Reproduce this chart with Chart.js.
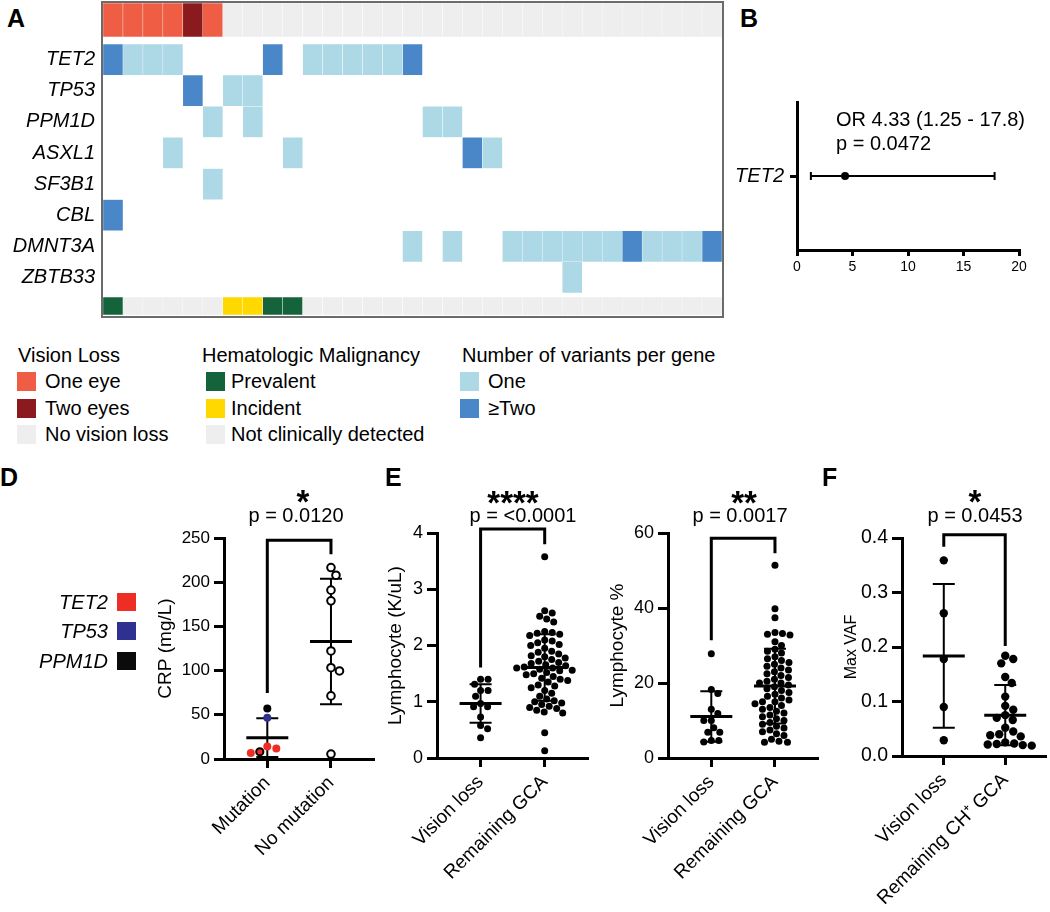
<!DOCTYPE html>
<html>
<head>
<meta charset="utf-8">
<title>Vision loss and clonal hematopoiesis in GCA</title>
<script src="https://cdn.jsdelivr.net/npm/chart.js@4.4.1/dist/chart.umd.min.js"></script>
<style>
  html, body { margin: 0; padding: 0; background: #fff; }
  body { position: relative; width: 1050px; height: 912px; overflow: hidden;
         font-family: "Liberation Sans", Arial, Helvetica, sans-serif; color: #000; }
  canvas, .t, .sw, .frame { position: absolute; }
  .t { white-space: nowrap; font-size: 20px; line-height: 20px; }
  .letter { font-size: 25px; line-height: 25px; font-weight: bold; }
  .stars { font-size: 33px; line-height: 33px; font-weight: bold; transform: translateX(-50%); }
  .pval { transform: translateX(-50%); }
  .it { font-style: italic; }
  .sw { width: 19px; height: 19px; }
  .frame { left: 101px; top: 1px; width: 619px; height: 313px; border: 2px solid #6b6b6b; z-index: 2; }
</style>
</head>
<body>

<!-- A -->
<canvas id="visionStrip" width="619" height="34" style="left:103px;top:3px"></canvas>
<canvas id="geneGrid" width="722" height="249" style="left:0;top:44px"></canvas>
<canvas id="malignancyStrip" width="619" height="18" style="left:103px;top:297px"></canvas>
<div class="frame"></div>
<div class="t letter" style="left:7px;top:6px">A</div>

<div class="t" style="left:18px;top:345px">Vision Loss</div>
<div class="sw" style="left:17px;top:372px;background:#EE5D44"></div><div class="t" style="left:45px;top:371px">One eye</div>
<div class="sw" style="left:17px;top:399px;background:#8B1A1E"></div><div class="t" style="left:45px;top:398px">Two eyes</div>
<div class="sw" style="left:17px;top:425px;background:#EEEEEE"></div><div class="t" style="left:45px;top:424px">No vision loss</div>

<div class="t" style="left:202px;top:345px">Hematologic Malignancy</div>
<div class="sw" style="left:206px;top:372px;background:#14633A"></div><div class="t" style="left:231px;top:371px">Prevalent</div>
<div class="sw" style="left:206px;top:399px;background:#FFD800"></div><div class="t" style="left:231px;top:398px">Incident</div>
<div class="sw" style="left:206px;top:425px;background:#EEEEEE"></div><div class="t" style="left:231px;top:424px">Not clinically detected</div>

<div class="t" style="left:462px;top:345px">Number of variants per gene</div>
<div class="sw" style="left:460px;top:372px;background:#ADD8E6"></div><div class="t" style="left:488px;top:371px">One</div>
<div class="sw" style="left:460px;top:399px;background:#4A87C8"></div><div class="t" style="left:488px;top:398px">≥Two</div>

<!-- B -->
<canvas id="forest" width="350" height="200" style="left:700px;top:80px"></canvas>
<div class="t letter" style="left:740px;top:6px">B</div>
<div class="t" style="left:836px;top:109px">OR 4.33 (1.25 - 17.8)</div>
<div class="t" style="left:836px;top:133px">p = 0.0472</div>

<!-- D -->
<canvas id="crp" width="290" height="432" style="left:100px;top:480px"></canvas>
<div class="t letter" style="left:0;top:465px">D</div>
<div class="t it" style="left:0;width:108px;text-align:right;top:592px">TET2</div>
<div class="t it" style="left:0;width:108px;text-align:right;top:621px">TP53</div>
<div class="t it" style="left:0;width:108px;text-align:right;top:651px">PPM1D</div>
<div class="sw" style="left:117px;top:593px;height:18px;background:#EE2D24"></div>
<div class="sw" style="left:117px;top:622px;height:18px;background:#2E3192"></div>
<div class="sw" style="left:117px;top:652px;height:18px;background:#0B0B0B"></div>
<div class="t stars" style="left:303px;top:485px">*</div>
<div class="t pval" style="left:296px;top:505px">p = 0.0120</div>

<!-- E -->
<canvas id="lymphCount" width="250" height="432" style="left:350px;top:480px"></canvas>
<canvas id="lymphPct" width="230" height="432" style="left:600px;top:480px"></canvas>
<div class="t letter" style="left:385px;top:465px">E</div>
<div class="t stars" style="left:513px;top:486px">****</div>
<div class="t pval" style="left:523px;top:505px">p = &lt;0.0001</div>
<div class="t stars" style="left:744px;top:486px">**</div>
<div class="t pval" style="left:740px;top:505px">p = 0.0017</div>

<!-- F -->
<canvas id="vaf" width="220" height="432" style="left:830px;top:480px"></canvas>
<div class="t letter" style="left:822px;top:465px">F</div>
<div class="t stars" style="left:975px;top:485px">*</div>
<div class="t pval" style="left:975px;top:505px">p = 0.0453</div>

<script>
// ---------- Panel A: one column per patient ----------
const geneNames = ['TET2', 'TP53', 'PPM1D', 'ASXL1', 'SF3B1', 'CBL', 'DMNT3A', 'ZBTB33'];
// 0 = no vision loss, 1 = one eye, 2 = two eyes
const visionLoss = [1,1,1,1,2,1,0,0,0,0, 0,0,0,0,0,0,0,0,0,0, 0,0,0,0,0,0,0,0,0,0, 0];
// 0 = not clinically detected, 1 = prevalent, 2 = incident
const malignancy = [1,0,0,0,0,0,2,2,1,1, 0,0,0,0,0,0,0,0,0,0, 0,0,0,0,0,0,0,0,0,0, 0];
// number of variants per gene and patient
const tet2   = [2,1,1,1,0,0,0,0,2,0, 1,1,1,1,1,2,0,0,0,0, 0,0,0,0,0,0,0,0,0,0, 0];
const tp53   = [0,0,0,0,2,0,1,1,0,0, 0,0,0,0,0,0,0,0,0,0, 0,0,0,0,0,0,0,0,0,0, 0];
const ppm1d  = [0,0,0,0,0,1,0,1,0,0, 0,0,0,0,0,0,1,1,0,0, 0,0,0,0,0,0,0,0,0,0, 0];
const asxl1  = [0,0,0,1,0,0,0,0,0,1, 0,0,0,0,0,0,0,0,2,1, 0,0,0,0,0,0,0,0,0,0, 0];
const sf3b1  = [0,0,0,0,0,1,0,0,0,0, 0,0,0,0,0,0,0,0,0,0, 0,0,0,0,0,0,0,0,0,0, 0];
const cbl    = [2,0,0,0,0,0,0,0,0,0, 0,0,0,0,0,0,0,0,0,0, 0,0,0,0,0,0,0,0,0,0, 0];
const dnmt3a = [0,0,0,0,0,0,0,0,0,0, 0,0,0,0,0,1,0,1,0,0, 1,1,1,1,1,1,2,1,1,1, 2];
const zbtb33 = [0,0,0,0,0,0,0,0,0,0, 0,0,0,0,0,0,0,0,0,0, 0,0,0,1,0,0,0,0,0,0, 0];
const geneRows = [tet2, tp53, ppm1d, asxl1, sf3b1, cbl, dnmt3a, zbtb33];

const visionColors = ['#EEEEEE', '#EE5D44', '#8B1A1E'];
const malignancyColors = ['#EEEEEE', '#14633A', '#FFD800'];
const variantColors = ['#ADD8E6', '#4A87C8'];
const cellLine = 'rgba(255,255,255,0.7)';

// ---------- Panel B: odds ratio ----------
const forestGenes = ['TET2'];
const forestOR = [4.33];
const forestLow = [1.25];
const forestHigh = [17.8];

// ---------- Panel D: CRP (mg/L) ----------
const crpGroups = ['Mutation', 'No mutation'];
const crpTet2 = [14.2, 12.0, 6.8];
const crpTet2Ppm1d = [8.2];
const crpTp53 = [46.6];
const crpPpm1d = [57.0];
const crpNoMutation = [216.6, 207.9, 191.0, 178.9, 122.2, 103.3, 99.6, 71.4, 5.6];

// ---------- Panel E: lymphocytes ----------
const lymphGroups = ['Vision loss', 'Remaining GCA'];
const lymphCountVision = [1.40, 1.40, 1.31, 1.20, 1.20, 1.10, 0.97, 0.91, 0.91, 0.73, 0.58, 0.52, 0.36];
const lymphCountRemaining = [3.58, 2.62, 2.58, 2.52, 2.47, 2.42, 2.25, 2.23, 2.22, 2.20, 2.18, 2.10, 2.08,
  2.05, 2.02, 2.00, 1.95, 1.90, 1.88, 1.85, 1.82, 1.80, 1.78, 1.75, 1.72, 1.70, 1.68, 1.66, 1.64, 1.62,
  1.60, 1.60, 1.58, 1.56, 1.55, 1.52, 1.50, 1.48, 1.45, 1.42, 1.40, 1.38, 1.35, 1.30, 1.28, 1.25, 1.20,
  1.15, 1.10, 1.05, 1.02, 1.00, 0.98, 0.95, 0.92, 0.90, 0.88, 0.85, 0.82, 0.80, 0.45, 0.13];
const lymphPctVision = [27.8, 18.3, 17.2, 13.0, 11.9, 10.0, 10.0, 8.1, 6.9, 6.9, 4.7, 4.7, 4.3];
const lymphPctRemaining = [51.4, 39.8, 37.4, 33.5, 33.2, 33.0, 32.8, 31.0, 30.0, 29.0, 28.5, 28.0, 27.0,
  26.5, 26.0, 25.5, 25.0, 24.5, 24.0, 23.5, 23.0, 22.5, 22.0, 21.5, 21.0, 20.5, 20.0, 20.0, 19.5, 19.0,
  18.5, 18.0, 17.5, 17.0, 16.5, 16.0, 15.5, 15.0, 15.0, 14.5, 14.0, 13.5, 13.0, 12.5, 12.0, 11.5, 11.0,
  10.5, 10.0, 9.5, 9.0, 8.5, 8.0, 7.5, 7.0, 6.5, 6.0, 5.0, 4.5, 4.2, 4.2];

// ---------- Panel F: max VAF ----------
const vafGroups = ['Vision loss', 'Remaining CH\u207A GCA'];
const vafVision = [0.359, 0.262, 0.178, 0.090, 0.029];
const vafRemaining = [0.184, 0.178, 0.170, 0.145, 0.134, 0.109, 0.092, 0.085, 0.075, 0.070, 0.066,
  0.052, 0.045, 0.040, 0.038, 0.036, 0.025, 0.023, 0.022, 0.021, 0.020, 0.019];

Chart.defaults.font.family = '"Liberation Sans", Arial, Helvetica, sans-serif';
Chart.defaults.color = '#000';

const noPlugins = { legend: { display: false }, tooltip: { enabled: false } };

// heatmap strips (vision loss on top, malignancy at the bottom)
function stripChart(id, status, colors) {
  return new Chart(document.getElementById(id), {
    type: 'bar',
    data: {
      labels: ['row'],
      datasets: [{
        data: status.map((s, i) => ({ x: [i, i + 1], y: 'row' })),
        backgroundColor: status.map(s => colors[s]),
        borderColor: cellLine, borderWidth: 0.5, borderSkipped: false,
        categoryPercentage: 1, barPercentage: 1
      }]
    },
    options: {
      indexAxis: 'y', responsive: false, animation: false, events: [],
      layout: { padding: 0 },
      plugins: noPlugins,
      scales: {
        x: { type: 'linear', min: 0, max: status.length, display: false },
        y: { display: false }
      }
    }
  });
}

function geneCells(level) {
  const out = [];
  geneRows.forEach((row, g) => row.forEach((n, i) => {
    if ((level === 1 && n === 1) || (level === 2 && n >= 2)) out.push({ x: [i, i + 1], y: geneNames[g] });
  }));
  return out;
}

stripChart('visionStrip', visionLoss, visionColors);
stripChart('malignancyStrip', malignancy, malignancyColors);

new Chart(document.getElementById('geneGrid'), {
  type: 'bar',
  data: {
    labels: geneNames,
    datasets: [1, 2].map(level => ({
      label: level === 1 ? 'One' : '≥Two',
      data: geneCells(level),
      backgroundColor: variantColors[level - 1],
      borderColor: cellLine, borderWidth: 0.5, borderSkipped: false,
      categoryPercentage: 1, barPercentage: 1, grouped: false
    }))
  },
  options: {
    indexAxis: 'y', responsive: false, animation: false, events: [],
    layout: { padding: 0 },
    plugins: noPlugins,
    scales: {
      x: { type: 'linear', min: 0, max: visionLoss.length, display: false },
      y: {
        type: 'category', offset: true,
        grid: { display: false, drawTicks: false }, border: { display: false },
        ticks: { font: { size: 20, style: 'italic' }, padding: 8 },
        // rows must fill the whole canvas height
        afterFit: s => { s.width = 103; s.paddingTop = 0; s.paddingBottom = 0; }
      }
    }
  }
});

// shared axis styling for the GraphPad-like panels
const axisLine = { display: true, width: 3, color: '#000' };
function tickGrid(len) {
  return { drawOnChartArea: false, drawTicks: true, tickLength: len, tickWidth: 3, tickColor: '#000', lineWidth: 3, color: '#000' };
}

// ---------- B ----------
const forestBars = {
  id: 'forestBars',
  beforeDatasetsDraw(chart) {
    const { ctx, scales: { x, y } } = chart;
    ctx.save();
    ctx.strokeStyle = '#000';
    ctx.lineWidth = 2;
    forestGenes.forEach((g, i) => {
      const py = y.getPixelForValue(i);
      const a = x.getPixelForValue(forestLow[i]), b = x.getPixelForValue(forestHigh[i]);
      ctx.beginPath();
      ctx.moveTo(a, py); ctx.lineTo(b, py);
      ctx.moveTo(a, py - 4); ctx.lineTo(a, py + 4);
      ctx.moveTo(b, py - 4); ctx.lineTo(b, py + 4);
      ctx.stroke();
    });
    ctx.restore();
  }
};

new Chart(document.getElementById('forest'), {
  type: 'scatter',
  data: {
    datasets: [{
      data: forestGenes.map((g, i) => ({ x: forestOR[i], y: g })),
      pointRadius: 4, pointBackgroundColor: '#000', pointBorderWidth: 0
    }]
  },
  options: {
    responsive: false, animation: false, events: [],
    layout: { padding: { top: 22, right: 31, left: 0, bottom: 0 } },
    plugins: noPlugins,
    scales: {
      x: {
        type: 'linear', min: 0, max: 20,
        ticks: { stepSize: 5, font: { size: 14 }, padding: 3 },
        grid: tickGrid(6), border: axisLine,
        afterFit: s => { s.height = 30; }
      },
      y: {
        type: 'category', labels: forestGenes, offset: true,
        ticks: { font: { size: 20, style: 'italic' }, padding: 6 },
        grid: tickGrid(7), border: axisLine,
        afterFit: s => { s.width = 97; }
      }
    }
  },
  plugins: [forestBars]
});

// ---------- dot plots (D, E, F) ----------
function groupStats(p, gi) {
  const vals = p.sets.filter(s => s.group === gi).flatMap(s => s.values);
  const n = vals.length;
  const m = vals.reduce((a, b) => a + b, 0) / n;
  const sd = Math.sqrt(vals.reduce((a, b) => a + (b - m) ** 2, 0) / (n - 1));
  return { m, sd };
}

function meanSdPlugin(p) {
  return {
    id: 'meanSd',
    beforeDatasetsDraw(chart) {
      const { ctx, scales: { x, y } } = chart;
      ctx.save();
      ctx.strokeStyle = '#000';
      p.groups.forEach((g, gi) => {
        const { m, sd } = groupStats(p, gi);
        const cx = x.getPixelForValue(gi);
        const hi = y.getPixelForValue(m + sd);
        const lo = y.getPixelForValue(Math.max(m - sd, p.yMin));
        ctx.lineWidth = 2;
        ctx.beginPath();
        ctx.moveTo(cx, hi); ctx.lineTo(cx, lo);
        ctx.moveTo(cx - 11, hi); ctx.lineTo(cx + 11, hi);
        if (m - sd > p.yMin) { ctx.moveTo(cx - 11, lo); ctx.lineTo(cx + 11, lo); }
        ctx.stroke();
        const my = y.getPixelForValue(m);
        ctx.lineWidth = 3;
        ctx.beginPath();
        ctx.moveTo(cx - 21, my); ctx.lineTo(cx + 21, my);
        ctx.stroke();
      });
      ctx.restore();
    }
  };
}

function bracketPlugin(p) {
  return {
    id: 'bracket',
    afterDatasetsDraw(chart) {
      const { ctx, scales: { x, y } } = chart;
      const [top, leftEnd, rightEnd] = p.bracket;
      const x0 = x.getPixelForValue(0), x1 = x.getPixelForValue(1);
      ctx.save();
      ctx.lineWidth = 3;
      ctx.strokeStyle = '#000';
      ctx.beginPath();
      ctx.moveTo(x0, y.getPixelForValue(leftEnd));
      ctx.lineTo(x0, y.getPixelForValue(top));
      ctx.lineTo(x1, y.getPixelForValue(top));
      ctx.lineTo(x1, y.getPixelForValue(rightEnd));
      ctx.stroke();
      ctx.restore();
    }
  };
}

// spread points sideways so they do not overlap (simple beeswarm in pixel space)
function beeswarm(chart, diameter) {
  const xs = chart.scales.x, ys = chart.scales.y;
  const unit = xs.getPixelForValue(1) - xs.getPixelForValue(0);
  const byGroup = {};
  chart.data.datasets.forEach(ds => ds.data.forEach(pt => {
    (byGroup[pt.group] = byGroup[pt.group] || []).push({ pt, py: ys.getPixelForValue(pt.y) });
  }));
  Object.values(byGroup).forEach(list => {
    list.sort((a, b) => a.py - b.py);
    const placed = [];
    list.forEach(item => {
      let dx = 0;
      for (let k = 0; k < 400; k++) {
        const cand = (k % 2 ? 1 : -1) * Math.ceil(k / 2) * 0.5;
        const free = placed.every(q => (cand - q.dx) ** 2 + (item.py - q.py) ** 2 >= diameter * diameter);
        if (free) { dx = cand; break; }
      }
      item.dx = dx;
      placed.push(item);
      item.pt.x = item.pt.group + dx / unit;
    });
  });
  chart.update('none');
}

function dotPlot(id, p) {
  const chart = new Chart(document.getElementById(id), {
    type: 'scatter',
    data: {
      datasets: p.sets.map(s => ({
        data: s.values.map(v => ({ x: s.group, y: v, group: s.group })),
        pointRadius: s.radius || p.radius,
        pointBackgroundColor: s.fill,
        pointBorderColor: s.line || s.fill,
        pointBorderWidth: s.lineWidth || 0,
        clip: false
      }))
    },
    options: {
      responsive: false, animation: false, events: [],
      layout: { padding: { top: p.top, right: p.right, left: 0, bottom: 0 } },
      plugins: noPlugins,
      scales: {
        x: {
          type: 'linear', min: -0.68, max: 1.66,
          afterBuildTicks: s => { s.ticks = p.groups.map((g, i) => ({ value: i })); },
          ticks: { callback: v => p.groups[v], maxRotation: 45, minRotation: 45, autoSkip: false,
                   font: { size: 19 }, padding: 4 },
          grid: tickGrid(9), border: axisLine,
          afterFit: s => { s.height = p.xHeight; }
        },
        y: {
          type: 'linear', min: p.yMin, max: p.yMax,
          ticks: { stepSize: p.step, font: { size: p.tickSize }, padding: 4,
                   callback: p.tickFormat || (v => v) },
          grid: tickGrid(10), border: axisLine,
          title: { display: true, text: p.title, font: { size: p.titleSize },
                   padding: { top: p.titlePad, bottom: 0 } },
          afterFit: s => { s.width = p.yWidth; }
        }
      }
    },
    plugins: [meanSdPlugin(p), bracketPlugin(p)]
  });
  beeswarm(chart, p.swarm);
  return chart;
}

const tet2Red = '#EE2D24', tp53Blue = '#2E3192';

dotPlot('crp', {
  groups: crpGroups,
  sets: [
    { group: 0, values: crpTet2, fill: tet2Red },
    { group: 0, values: crpTet2Ppm1d, fill: tet2Red, line: '#000', lineWidth: 2, radius: 3.6 },
    { group: 0, values: crpTp53, fill: tp53Blue },
    { group: 0, values: crpPpm1d, fill: '#000' },
    { group: 1, values: crpNoMutation, fill: '#fff', line: '#000', lineWidth: 2, radius: 3.8 }
  ],
  radius: 4, swarm: 9,
  yMin: 0, yMax: 250, step: 50, tickSize: 17,
  title: 'CRP (mg/L)', titleSize: 19, titlePad: 54.6,
  yWidth: 124, top: 58, right: 17, xHeight: 153,
  bracket: [247.4, 74.8, 231.6]
});

dotPlot('lymphCount', {
  groups: lymphGroups,
  sets: [
    { group: 0, values: lymphCountVision, fill: '#000' },
    { group: 1, values: lymphCountRemaining, fill: '#000' }
  ],
  radius: 3.5, swarm: 7.5,
  yMin: 0, yMax: 4, step: 1, tickSize: 18,
  title: 'Lymphocyte (K/uL)', titleSize: 19, titlePad: 34.6,
  yWidth: 87, top: 53, right: 13, xHeight: 154,
  bracket: [4.07, 1.61, 3.8]
});

dotPlot('lymphPct', {
  groups: lymphGroups,
  sets: [
    { group: 0, values: lymphPctVision, fill: '#000' },
    { group: 1, values: lymphPctRemaining, fill: '#000' }
  ],
  radius: 3.5, swarm: 7.5,
  yMin: 0, yMax: 60, step: 20, tickSize: 18,
  title: 'Lymphocyte %', titleSize: 19, titlePad: 6.6,
  yWidth: 68, top: 53, right: 13, xHeight: 154,
  bracket: [58.6, 31.4, 54.6]
});

dotPlot('vaf', {
  groups: vafGroups,
  sets: [
    { group: 0, values: vafVision, fill: '#000' },
    { group: 1, values: vafRemaining, fill: '#000' }
  ],
  radius: 4.2, swarm: 8.6,
  yMin: 0, yMax: 0.4, step: 0.1, tickSize: 19.5, tickFormat: v => v.toFixed(1),
  title: 'Max VAF', titleSize: 16, titlePad: 12.4,
  yWidth: 72, top: 58, right: 4, xHeight: 156,
  bracket: [0.406, 0.384, 0.202]
});
</script>
</body>
</html>
